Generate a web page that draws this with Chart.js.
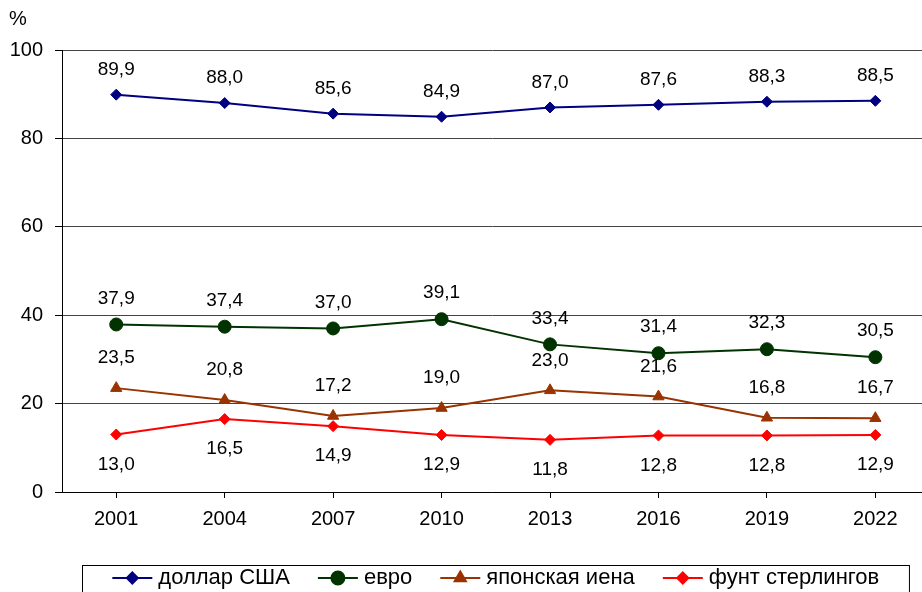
<!DOCTYPE html>
<html>
<head>
<meta charset="utf-8">
<script src="https://cdn.jsdelivr.net/npm/chart.js@4/dist/chart.umd.min.js"></script>
<style>
	html, body { margin: 0; padding: 0; background: #ffffff; overflow: hidden; }
	canvas { display: block; }
</style>
</head>
<body>
<canvas id="chart" width="922" height="592"></canvas>
<script>
const years = ["2001", "2004", "2007", "2010", "2013", "2016", "2019", "2022"];
const seriesNames = ["доллар США", "евро", "японская иена", "фунт стерлингов"];
const dollarValues = [89.9, 88.0, 85.6, 84.9, 87.0, 87.6, 88.3, 88.5];
const euroValues = [37.9, 37.4, 37.0, 39.1, 33.4, 31.4, 32.3, 30.5];
const yenValues = [23.5, 20.8, 17.2, 19.0, 23.0, 21.6, 16.8, 16.7];
const poundValues = [13.0, 16.5, 14.9, 12.9, 11.8, 12.8, 12.8, 12.9];
const yTicks = [0, 20, 40, 60, 80, 100];

const fontFamily = "'Liberation Sans', Arial, sans-serif";
const colors = ["#000080", "#003300", "#993300", "#ff0000"];
const pointStyles = ["rectRot", "circle", "triangle", "rectRot"];
const pointRadii = [5.5, 6.5, 6.5, 5.5];
// label offset from the point, negative means below
const labelOffsets = [25, 26, 30, -30];
// the plot runs past the right edge of the picture, so the x range is cut short there
const xMin = -0.5;
const xMax = 7.43;

function formatValue(v) {
	return v.toFixed(1).replace(".", ",");
}

const valueLabels = {
	id: "valueLabels",
	afterDatasetsDraw(chart) {
		const ctx = chart.ctx;
		ctx.save();
		ctx.font = "19px " + fontFamily;
		ctx.fillStyle = "#000000";
		ctx.textAlign = "center";
		ctx.textBaseline = "middle";
		chart.data.datasets.forEach((dataset, i) => {
			const meta = chart.getDatasetMeta(i);
			meta.data.forEach((point, j) => {
				ctx.fillText(formatValue(dataset.data[j].y), point.x, point.y - labelOffsets[i]);
			});
		});
		ctx.restore();
	}
};

const boxedLegend = {
	id: "boxedLegend",
	afterDraw(chart) {
		const ctx = chart.ctx;
		const xScale = chart.scales.x;
		ctx.save();
		ctx.font = "22px " + fontFamily;
		const lineLength = 40;
		const textGap = 6;
		const itemGap = 28;
		const widths = chart.data.datasets.map(d => lineLength + textGap + ctx.measureText(d.label).width);
		const total = widths.reduce((a, b) => a + b, 0) + itemGap * (widths.length - 1);
		const centerX = xScale.getPixelForValue((years.length - 1) / 2);
		const y = 578;
		const boxPad = 30;
		ctx.strokeStyle = "#000000";
		ctx.lineWidth = 1;
		ctx.strokeRect(Math.round(centerX - total / 2 - boxPad) + 0.5, 565.5, total + boxPad * 2, 40);
		let x = centerX - total / 2;
		chart.data.datasets.forEach((d, i) => {
			ctx.strokeStyle = d.borderColor;
			ctx.lineWidth = 2;
			ctx.beginPath();
			ctx.moveTo(x, y);
			ctx.lineTo(x + lineLength, y);
			ctx.stroke();
			ctx.fillStyle = d.borderColor;
			Chart.helpers.drawPoint(ctx, {
				pointStyle: d.pointStyle,
				radius: d.pointRadius,
				borderWidth: 1
			}, x + lineLength / 2, y);
			ctx.fillStyle = "#000000";
			ctx.textAlign = "left";
			ctx.textBaseline = "middle";
			ctx.fillText(d.label, x + lineLength + textGap, y);
			x += widths[i] + itemGap;
		});
		ctx.font = "20px " + fontFamily;
		ctx.fillStyle = "#000000";
		ctx.textAlign = "left";
		ctx.fillText("%", 9, 19);
		ctx.restore();
	}
};

const allValues = [dollarValues, euroValues, yenValues, poundValues];
const datasets = allValues.map((values, i) => {
	return {
		label: seriesNames[i],
		data: values.map((v, j) => ({ x: j, y: v })),
		borderColor: colors[i],
		backgroundColor: colors[i],
		pointBackgroundColor: colors[i],
		pointBorderColor: colors[i],
		borderWidth: 2,
		pointStyle: pointStyles[i],
		pointRadius: pointRadii[i],
		pointBorderWidth: 1,
		tension: 0
	};
});

const context = document.getElementById("chart").getContext("2d");
new Chart(context, {
	type: "line",
	data: {
		datasets: datasets
	},
	options: {
		responsive: false,
		maintainAspectRatio: false,
		animation: false,
		layout: {
			autoPadding: false,
			padding: { top: 50, left: 0, right: 0, bottom: 0 }
		},
		plugins: {
			legend: { display: false },
			tooltip: { enabled: false }
		},
		scales: {
			x: {
				type: "linear",
				min: xMin,
				max: xMax,
				afterBuildTicks(scale) {
					scale.ticks = years.map((y, i) => ({ value: i }));
				},
				grid: {
					display: true,
					drawOnChartArea: false,
					drawTicks: true,
					tickLength: 6,
					color: "#000000"
				},
				border: { display: true, color: "#000000", width: 1 },
				ticks: {
					color: "#000000",
					padding: 9,
					maxRotation: 0,
					autoSkip: false,
					font: { family: fontFamily, size: 20 },
					callback: value => years[value]
				},
				afterFit(scale) {
					scale.height = 100;
					scale.paddingLeft = 0;
					scale.paddingRight = 0;
				}
			},
			y: {
				min: 0,
				max: 100,
				afterBuildTicks(scale) {
					scale.ticks = yTicks.map(v => ({ value: v }));
				},
				grid: {
					color: "#444444",
					lineWidth: 1,
					drawTicks: true,
					tickLength: 7,
					tickColor: "#000000"
				},
				border: { display: true, color: "#000000", width: 1 },
				ticks: {
					color: "#000000",
					padding: 12,
					font: { family: fontFamily, size: 20 }
				},
				afterFit(scale) {
					scale.width = 62;
				}
			}
		}
	},
	plugins: [valueLabels, boxedLegend]
});
</script>
</body>
</html>
